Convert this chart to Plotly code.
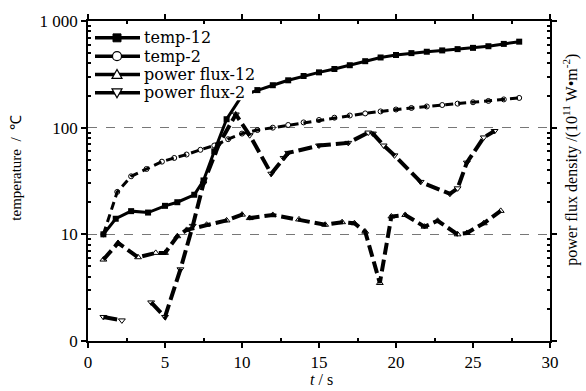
import plotly.graph_objects as go

# ---- data ----
temp12_t = [1, 1.8, 2.8, 3.9, 5, 5.8, 6.9, 7.5, 8.2, 9, 10, 11, 12, 13, 14, 15, 16, 17, 18, 19, 20, 21, 22, 23, 24, 25, 26, 27, 28]
temp12 = [10, 14, 16.5, 16, 18.5, 20, 23.5, 32, 60, 120, 200, 225, 250, 278, 305, 330, 355, 385, 420, 455, 480, 500, 515, 530, 545, 560, 580, 610, 640]

temp2_t = [1, 1.9, 2.8, 3.8, 4.8, 5.6, 6.4, 7.3, 8.2, 9.1, 10, 11, 12, 13, 14, 15, 16, 17, 18, 19, 20, 21, 22, 23, 24, 25, 26, 27, 28]
temp2 = [10, 25, 35, 41, 48, 52, 56, 62, 68, 78, 88, 95, 100, 106, 112, 118, 124, 130, 136, 142, 148, 153, 158, 163, 168, 173, 178, 184, 190]

pf12_t = [1, 1.95, 3.25, 4.4, 5, 5.8, 6.4, 7.7, 9, 10, 10.5, 12, 13.7, 15.4, 16.5, 17.3, 18, 18.95, 19.7, 20.6, 21.85, 22.7, 24, 24.6, 25.7, 26.8]
pf12 = [5.8, 8.3, 6.1, 6.7, 6.7, 9.6, 11, 12.3, 13.5, 15.3, 14.2, 15.2, 13.8, 12.3, 13, 12.7, 10.6, 3.5, 14.7, 15.2, 11.8, 13.4, 10, 10.3, 12.7, 16.6]

pf2_t = [1, 2.2, 3, 4.1, 5, 6, 6.8, 7.5, 8.5, 9.6, 10.5, 11.9, 12.7, 13, 15, 16.9, 18.2, 18.5, 19.2, 19.9, 21.6, 23.5, 24, 24.6, 25.7, 26.4]
pf2 = [1.68, 1.56, None, 2.3, 1.68, 4.7, 12, 30, 70, 133, 85, 37, 52, 58, 68, 72, 90, 88, 68, 55, 31, 24, 27, 47, 81, 93]

series_names = ["temp-12", "temp-2", "power flux-12", "power flux-2"]

y_tickvals = [1, 10, 100, 1000]
y_ticktext = ["0", "10", "100", "1 000"]
x_tickvals = [0, 5, 10, 15, 20, 25, 30]

FONT = "Liberation Serif, Times New Roman, serif"
LFONT = "DejaVu Serif, serif"

fig = go.Figure()
fig.add_trace(go.Scatter(x=temp12_t, y=temp12, name=series_names[0], mode="lines+markers",
                         line=dict(color="black", width=3),
                         marker=dict(symbol="square", size=6, color="black")))
fig.add_trace(go.Scatter(x=temp2_t, y=temp2, name=series_names[1], mode="lines+markers",
                         line=dict(color="black", width=3, dash="8px,5px"),
                         marker=dict(symbol="circle-open", size=5, color="black")))
fig.add_trace(go.Scatter(x=pf12_t, y=pf12, name=series_names[2], mode="lines+markers",
                         line=dict(color="black", width=4, dash="12px,5px"),
                         marker=dict(symbol="triangle-up-open", size=6, color="black")))
fig.add_trace(go.Scatter(x=pf2_t, y=pf2, name=series_names[3], mode="lines+markers",
                         connectgaps=False,
                         line=dict(color="black", width=4, dash="14px,5px"),
                         marker=dict(symbol="triangle-down-open", size=6, color="black")))

minor_y = [m * 10 ** e for e in range(0, 3) for m in range(2, 10)]

# plot area in pixels
pl, pr, pt, pb = 88, 586 - 36, 18, 391 - 50
def px(x):
    return (x - pl) / (pr - pl)
def py(y):
    return (pb - y) / (pb - pt)

shapes = []
annotations = []
# legend (drawn by hand to match the compact spacing of the original)
shapes.append(dict(type="rect", xref="paper", yref="paper", layer="above",
                   x0=px(92), x1=px(252), y0=py(98), y1=py(24),
                   fillcolor="white", line=dict(width=0)))
rows = [35, 53.5, 72, 90.5]
for i, (name, yy) in enumerate(zip(series_names, rows)):
    shapes.append(dict(type="line", xref="paper", yref="paper", layer="above",
                       x0=px(95), x1=px(140), y0=py(yy), y1=py(yy),
                       line=dict(color="black", width=3.5)))
    cx = 117
    if i == 0:
        shapes.append(dict(type="rect", xref="paper", yref="paper", layer="above",
                           x0=px(cx - 4), x1=px(cx + 4), y0=py(yy + 4), y1=py(yy - 4),
                           fillcolor="black", line=dict(color="black", width=1)))
    elif i == 1:
        shapes.append(dict(type="circle", xref="paper", yref="paper", layer="above",
                           x0=px(cx - 4.5), x1=px(cx + 4.5), y0=py(yy + 4.5), y1=py(yy - 4.5),
                           fillcolor="white", line=dict(color="black", width=1.2)))
    elif i == 2:
        shapes.append(dict(type="path", xref="paper", yref="paper", layer="above",
                           path=f"M {px(cx-5)},{py(yy+4)} L {px(cx+5)},{py(yy+4)} L {px(cx)},{py(yy-5)} Z",
                           fillcolor="white", line=dict(color="black", width=1.2)))
    else:
        shapes.append(dict(type="path", xref="paper", yref="paper", layer="above",
                           path=f"M {px(cx-5)},{py(yy-4)} L {px(cx+5)},{py(yy-4)} L {px(cx)},{py(yy+5)} Z",
                           fillcolor="white", line=dict(color="black", width=1.2)))
    annotations.append(dict(text=name, xref="paper", yref="paper", x=px(142), y=py(yy),
                            xanchor="left", yanchor="middle", showarrow=False,
                            font=dict(family=LFONT, size=16, color="black")))

annotations += [
    dict(text="temperature  /  ℃", x=px(16), y=py(166), xref="paper", yref="paper",
         xanchor="center", yanchor="middle",
         showarrow=False, textangle=-90, font=dict(family=FONT, size=15)),
    dict(text="power flux density /(10<sup>11</sup> W•m<sup>-2</sup>)",
         x=px(571), y=py(158), xref="paper", yref="paper", xanchor="center", yanchor="middle",
         showarrow=False, textangle=-90, font=dict(family=FONT, size=16)),
    dict(text="<i>t</i> / s", x=px(321), y=py(380), xref="paper", yref="paper",
         xanchor="center", yanchor="middle", showarrow=False,
         font=dict(family=FONT, size=16)),
]

fig.update_layout(
    width=586, height=391,
    margin=dict(l=88, r=36, t=18, b=50),
    paper_bgcolor="white", plot_bgcolor="white",
    font=dict(family=FONT, size=16, color="black"),
    showlegend=False,
    xaxis=dict(range=[0, 30], tickvals=x_tickvals, showgrid=False, zeroline=False,
               showline=True, linecolor="black", linewidth=1.5, mirror="ticks",
               ticks="outside", ticklen=5, tickwidth=1.5, tickcolor="black",
               minor=dict(tickvals=[2.5, 7.5, 12.5, 17.5, 22.5, 27.5], ticks="inside",
                          ticklen=3, tickcolor="black", showgrid=False),
               tickfont=dict(family=FONT, size=17)),
    yaxis=dict(type="log", range=[0, 3], tickvals=y_tickvals, ticktext=y_ticktext,
               showgrid=True, gridcolor="#777", griddash="dash", gridwidth=1,
               zeroline=False, showline=True, linecolor="black", linewidth=1.5,
               mirror="ticks", ticks="outside", ticklen=5, tickwidth=1.5, tickcolor="black",
               minor=dict(tickvals=minor_y, ticks="inside", ticklen=3,
                          tickcolor="black", showgrid=False),
               tickfont=dict(family=FONT, size=17)),
    shapes=shapes,
    annotations=annotations,
)

fig.write_html("out.html")
